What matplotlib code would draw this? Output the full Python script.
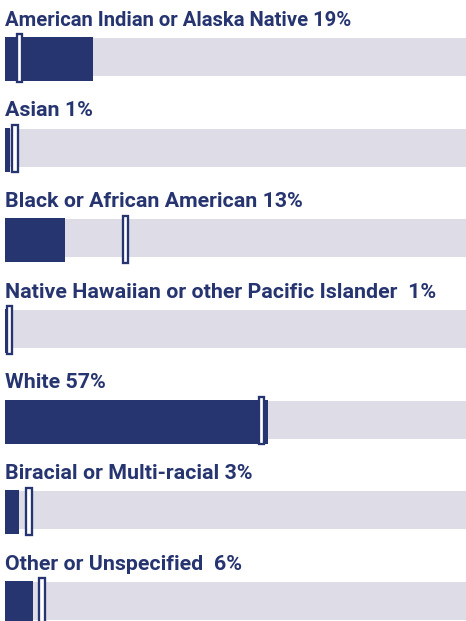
import matplotlib
matplotlib.use("Agg")
import matplotlib.pyplot as plt
from matplotlib.patches import Rectangle

categories = [
    "American Indian or Alaska Native",
    "Asian",
    "Black or African American",
    "Native Hawaiian or other Pacific Islander",
    "White",
    "Biracial or Multi-racial",
    "Other or Unspecified",
]
label_seps = [" ", " ", " ", "  ", " ", " ", "  "]
values = [19, 1, 13, 1, 57, 3, 6]
benchmarks = [3.2, 2.2, 26.2, 1.0, 55.6, 5.2, 8.0]

NAVY = "#263470"
GRAY = "#dddce7"
font_sizes = [14.6, 15.4, 15.4, 15.4, 15.4, 15.4, 15.4]

W, H = 466, 621
fig = plt.figure(figsize=(W / 100, H / 100), dpi=100)
ax = fig.add_axes([5 / W, 0, 461 / W, 1])
ax.set_xlim(0, 100)
ax.set_ylim(H, 0)
ax.axis("off")

px = 100 / 461.0  # data units per pixel horizontally
step = 90.67
for i, (cat, sep, v, b) in enumerate(zip(categories, label_seps, values, benchmarks)):
    top = 38 + step * i
    ax.add_patch(Rectangle((0, top), 100, 38, facecolor=GRAY, edgecolor="none", zorder=1))
    ax.add_patch(Rectangle((0, top - 1), v, 44, facecolor=NAVY, edgecolor="none", zorder=2))
    mw = 5.4 * px
    ax.add_patch(Rectangle((b - mw / 2, top - 3.8), mw, 47.6, facecolor="white",
                           edgecolor=NAVY, linewidth=1.66, zorder=3))
    ax.text(0.1, top - 12.5, f"{cat}{sep}{v}%", ha="left", va="baseline",
            fontsize=font_sizes[i], fontweight="bold", color=NAVY, family="Roboto")

fig.savefig("out.png", dpi=100)
